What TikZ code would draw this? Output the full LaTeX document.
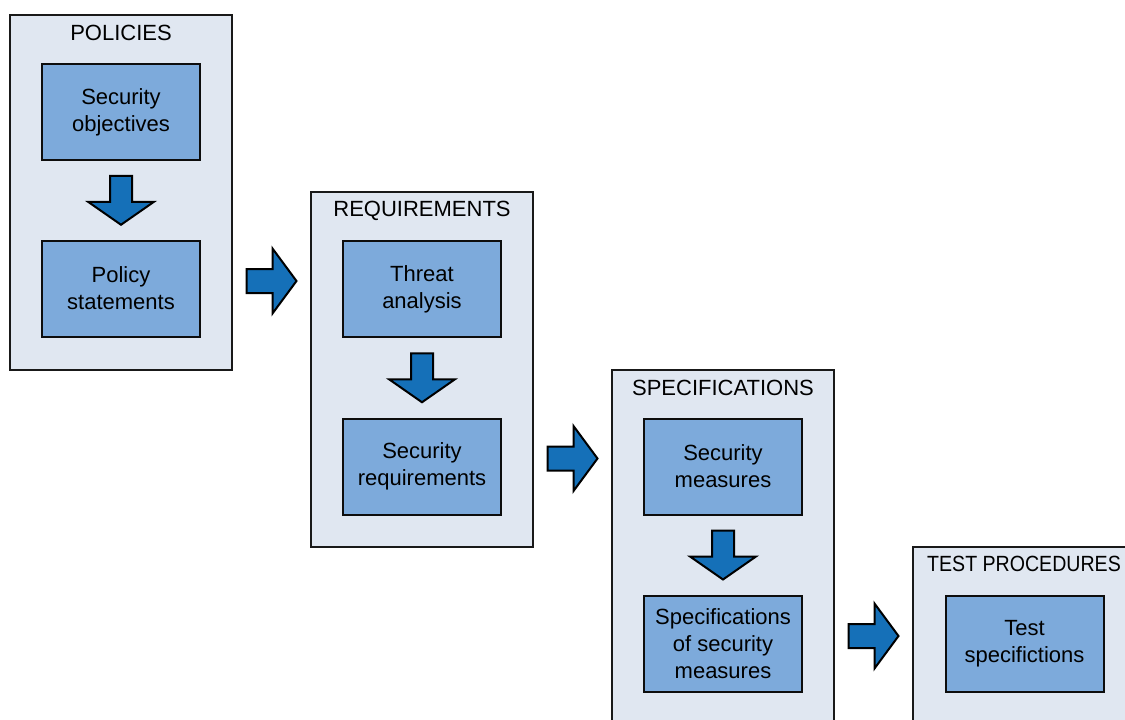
\documentclass[tikz,border=0pt]{standalone}
\usepackage{fontspec}
\setmainfont{Liberation Sans}
\usepackage{xcolor}
\usepackage{tikz}
\usetikzlibrary{calc}

\definecolor{panelfill}{HTML}{E0E7F1}
\definecolor{boxfill}{HTML}{7DAADB}
\definecolor{arrowfill}{HTML}{1570B8}

\tikzset{
  panel/.style={draw=black!90, line width=2pt, fill=panelfill, rectangle,
    minimum width=222pt, minimum height=355pt, inner sep=0pt},
  stage/.style={font=\fontsize{22}{27}\selectfont, inner sep=0pt},
  inbox/.style={draw=black!95, line width=2pt, fill=boxfill, rectangle,
    minimum width=158pt, minimum height=96pt, align=center,
    font=\fontsize{22}{27}\selectfont},
  blockarrow/.style={draw=black, line width=2pt, fill=arrowfill, line join=miter}
}

\newcommand{\downblock}[1]{\draw[blockarrow] #1 ++(-11,-24.5) -- ++(22,0) -- ++(0,26) -- ++(22,0) -- ++(-33,23) -- ++(-33,-23) -- ++(22,0) -- cycle;}
\newcommand{\rightblock}[1]{\draw[blockarrow] #1 ++(-25,-12) -- ++(26,0) -- ++(0,-20.5) -- ++(24,32.5) -- ++(-24,32.5) -- ++(0,-20.5) -- ++(-26,0) -- cycle;}

\begin{document}
\begin{tikzpicture}[x=1pt, y=-1pt]
\useasboundingbox (0,0) rectangle (1125,720);
\clip (0,0) rectangle (1125,720);

% the four stages
\node[panel] (pol) at (121,192.5) {};
\node[panel] (req) at (422,369.5) {};
\node[panel] (spec) at (723,547.5) {};
\node[panel] (test) at (1024,724.5) {};

\node[stage] (polt) at (121,33) {POLICIES};
\node[stage] (reqt) at (422,211) {REQUIREMENTS};
\node[stage] (spect) at (723,387.5) {SPECIFICATIONS};
\node[stage] (testt) at (1024,564) {\scalebox{0.89}[1]{TEST PROCEDURES}};

% boxes inside the stages
\node[inbox] (so) at (121,112) {Security\\objectives};
\node[inbox] (ps) at (121,288.5) {Policy\\statements};
\node[inbox] (ta) at (422,289) {Threat\\analysis};
\node[inbox] (sr) at (422,466.5) {Security\\requirements};
\node[inbox] (sm) at (723,466.5) {Security\\measures};
\node[inbox] (ssm) at (723,643.5) {Specifications\\of security\\measures};
\node[inbox] (ts) at (1024.5,643.5) {Test\\specifictions};

% arrows
\coordinate (d1) at ($(so.south)!0.5!(ps.north)$);
\coordinate (d2) at ($(ta.south)!0.5!(sr.north)$);
\coordinate (d3) at ($(sm.south)!0.5!(ssm.north)$);
\downblock{(d1)}
\downblock{(d2)}
\downblock{(d3)}

\coordinate (r1) at ($(pol.east)!0.5!(req.west)$ |- ps);
\coordinate (r2) at ($(req.east)!0.5!(spec.west)$ |- sr);
\coordinate (r3) at ($(spec.east)!0.5!(test.west)$ |- ssm);
\rightblock{(r1)}
\rightblock{(r2)}
\rightblock{(r3)}
\end{tikzpicture}
\end{document}
